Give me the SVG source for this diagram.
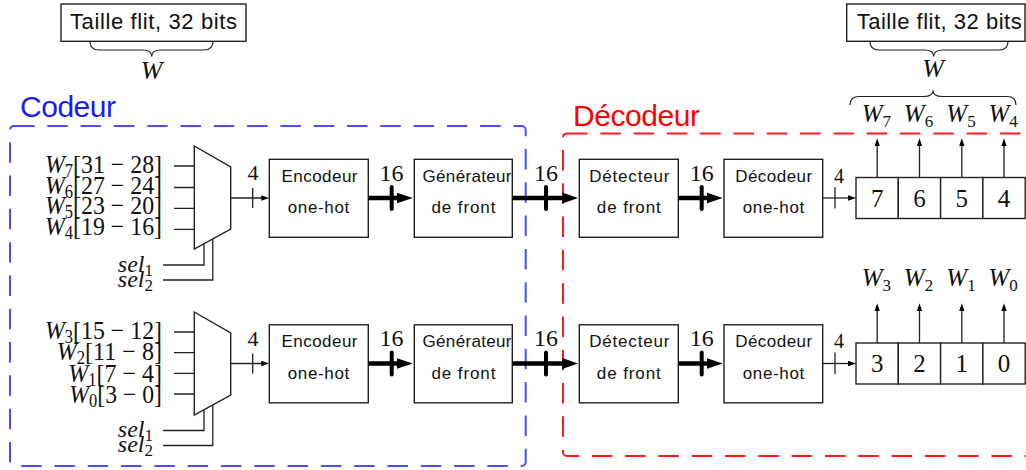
<svg xmlns="http://www.w3.org/2000/svg" width="1026" height="470" viewBox="0 0 1026 470">
<defs>
<style>
.sans{font-family:"Liberation Sans","DejaVu Sans",sans-serif;fill:#111}
.lbl{font-size:17px}
.serif{font-family:"Liberation Serif","DejaVu Serif",serif;fill:#111}
.it{font-style:italic}
.box{fill:#fff;stroke:#222;stroke-width:1.4}
.ln{fill:none;stroke:#222;stroke-width:1.3}
.thick{fill:none;stroke:#000;stroke-width:4.5}
.tick{fill:none;stroke:#000;stroke-width:4;stroke-linecap:round}
.tickt{fill:none;stroke:#222;stroke-width:1.3}
.brace{fill:none;stroke:#222;stroke-width:1.2}
</style>
<marker id="ah" markerUnits="userSpaceOnUse" viewBox="0 0 8 8" markerWidth="8" markerHeight="8" refX="5" refY="4" orient="auto"><path d="M0,1.3 L8,4 L0,6.7 z" fill="#000"/></marker>
<marker id="ahT" markerUnits="userSpaceOnUse" viewBox="0 0 16 12" markerWidth="16" markerHeight="12" refX="6" refY="6" orient="auto"><path d="M0,0.6 L16,6 L0,11.4 z" fill="#000"/></marker>
</defs>
<rect width="1026" height="470" fill="#fff"/>

<!-- containers -->
<g id="codeur">
<rect x="10" y="126" width="515.7" height="340" rx="4" fill="none" stroke="#4d4dff" stroke-width="2" stroke-dasharray="20.5 12.8"/>
<text x="20" y="117" class="sans" font-size="30" style="fill:#1a1aff" textLength="96" lengthAdjust="spacing">Codeur</text>
</g>
<g id="decodeur">
<rect x="563" y="133.5" width="500" height="322.5" rx="4" fill="none" stroke="#ff1a1a" stroke-width="2" stroke-dasharray="20.5 12.8"/>
<text x="573" y="126" class="sans" font-size="30" style="fill:#ff0000" textLength="127" lengthAdjust="spacing">Décodeur</text>
</g>

<!-- top annotations -->
<g id="taille-left">
<rect x="61" y="4" width="185" height="37.3" class="box"/>
<text x="70" y="29.3" class="sans" font-size="22" textLength="167" lengthAdjust="spacing">Taille flit, 32 bits</text>
<path class="brace" d="M90,41.5 Q90,50 99,50 H142.7 Q151.7,50 151.7,56.5 Q151.7,50 160.7,50 H204 Q213,50 213,41.5"/>
<text x="151.7" y="79" class="serif it" font-size="26" text-anchor="middle">W</text>
</g>
<g id="taille-right">
<rect x="846.7" y="4" width="178.3" height="37.3" class="box"/>
<text x="856.7" y="29.3" class="sans" font-size="22" textLength="165" lengthAdjust="spacing">Taille flit, 32 bits</text>
<path class="brace" d="M870,41.5 Q870,50 879,50 H924.7 Q933.7,50 933.7,56.5 Q933.7,50 942.7,50 H999 Q1008,50 1008,41.5"/>
<text x="933" y="77" class="serif it" font-size="26" text-anchor="middle">W</text>
<path class="brace" d="M850,105 Q850,96.5 859,96.5 H924 Q933,96.5 933,90.5 Q933,96.5 942,96.5 H1007 Q1016,96.5 1016,105"/>
</g>

<!-- row 1 -->
<g id="mux1">
<polygon points="194.3,146 230.7,167 230.7,229 194.3,249" class="box"/>
<g class="serif" font-size="26">
<text x="45" y="173" textLength="117" lengthAdjust="spacingAndGlyphs"><tspan class="it">W</tspan><tspan font-size="18" dy="4">7</tspan><tspan dy="-4">[31 − 28]</tspan></text>
<text x="45" y="193.5" textLength="117" lengthAdjust="spacingAndGlyphs"><tspan class="it">W</tspan><tspan font-size="18" dy="4">6</tspan><tspan dy="-4">[27 − 24]</tspan></text>
<text x="45" y="214" textLength="117" lengthAdjust="spacingAndGlyphs"><tspan class="it">W</tspan><tspan font-size="18" dy="4">5</tspan><tspan dy="-4">[23 − 20]</tspan></text>
<text x="45" y="234.5" textLength="117" lengthAdjust="spacingAndGlyphs"><tspan class="it">W</tspan><tspan font-size="18" dy="4">4</tspan><tspan dy="-4">[19 − 16]</tspan></text>
</g>
<g class="serif it" font-size="24" text-anchor="end">
<text x="153" y="271.7">sel<tspan font-size="17" font-style="normal" dy="4">1</tspan></text>
<text x="153" y="286.7">sel<tspan font-size="17" font-style="normal" dy="4">2</tspan></text>
</g>
</g>
<g id="enc1">
<rect x="269.3" y="159.3" width="99" height="78" class="box"/>
<text x="319.5" y="181.7" class="sans lbl" text-anchor="middle" textLength="76" lengthAdjust="spacing">Encodeur</text>
<text x="318.5" y="213" class="sans lbl" text-anchor="middle" textLength="61.6" lengthAdjust="spacing">one-hot</text>
</g>
<g id="gen1">
<rect x="414.3" y="159.3" width="98" height="78" class="box"/>
<text x="467" y="181.7" class="sans lbl" text-anchor="middle" textLength="89" lengthAdjust="spacing">Générateur</text>
<text x="463.4" y="213" class="sans lbl" text-anchor="middle" textLength="64" lengthAdjust="spacing">de front</text>
</g>
<g id="det1">
<rect x="579.3" y="159.3" width="99" height="78" class="box"/>
<text x="629.3" y="181.7" class="sans lbl" text-anchor="middle" textLength="80" lengthAdjust="spacing">Détecteur</text>
<text x="628.8" y="213" class="sans lbl" text-anchor="middle" textLength="64" lengthAdjust="spacing">de front</text>
</g>
<g id="dec1">
<rect x="724" y="159.3" width="98.7" height="78" class="box"/>
<text x="773.7" y="181.7" class="sans lbl" text-anchor="middle" textLength="77" lengthAdjust="spacing">Décodeur</text>
<text x="773.5" y="213" class="sans lbl" text-anchor="middle" textLength="61.6" lengthAdjust="spacing">one-hot</text>
</g>
<g id="reg1">
<rect x="856" y="177.5" width="42.3" height="41" class="box"/>
<rect x="898.3" y="177.5" width="42.3" height="41" class="box"/>
<rect x="940.6" y="177.5" width="42.3" height="41" class="box"/>
<rect x="982.9" y="177.5" width="42.3" height="41" class="box"/>
<g class="serif" font-size="25" text-anchor="middle">
<text x="877.2" y="206.7">7</text><text x="919.5" y="206.7">6</text><text x="961.8" y="206.7">5</text><text x="1004" y="206.7">4</text>
</g>
<g class="serif" font-size="25">
<text x="861.7" y="121.7"><tspan class="it">W</tspan><tspan font-size="17" dy="5">7</tspan></text>
<text x="903.8" y="121.7"><tspan class="it">W</tspan><tspan font-size="17" dy="5">6</tspan></text>
<text x="946.3" y="121.7"><tspan class="it">W</tspan><tspan font-size="17" dy="5">5</tspan></text>
<text x="988.5" y="121.7"><tspan class="it">W</tspan><tspan font-size="17" dy="5">4</tspan></text>
</g>
</g>

<!-- row 2 -->
<g id="mux2">
<polygon points="194.3,312 230.7,333 230.7,395 194.3,415" class="box"/>
<g class="serif" font-size="26">
<text x="45" y="339" textLength="117" lengthAdjust="spacingAndGlyphs"><tspan class="it">W</tspan><tspan font-size="18" dy="4">3</tspan><tspan dy="-4">[15 − 12]</tspan></text>
<text x="56.7" y="360" textLength="105.3" lengthAdjust="spacingAndGlyphs"><tspan class="it">W</tspan><tspan font-size="18" dy="4">2</tspan><tspan dy="-4">[11 − 8]</tspan></text>
<text x="68.3" y="381.5" textLength="93.7" lengthAdjust="spacingAndGlyphs"><tspan class="it">W</tspan><tspan font-size="18" dy="4">1</tspan><tspan dy="-4">[7 − 4]</tspan></text>
<text x="69.3" y="403" textLength="92.7" lengthAdjust="spacingAndGlyphs"><tspan class="it">W</tspan><tspan font-size="18" dy="4">0</tspan><tspan dy="-4">[3 − 0]</tspan></text>
</g>
<g class="serif it" font-size="24" text-anchor="end">
<text x="153" y="437.3">sel<tspan font-size="17" font-style="normal" dy="4">1</tspan></text>
<text x="153" y="452.2">sel<tspan font-size="17" font-style="normal" dy="4">2</tspan></text>
</g>
</g>
<g id="enc2">
<rect x="269.3" y="324.8" width="99" height="78" class="box"/>
<text x="319.5" y="347.2" class="sans lbl" text-anchor="middle" textLength="76" lengthAdjust="spacing">Encodeur</text>
<text x="318.5" y="378.5" class="sans lbl" text-anchor="middle" textLength="61.6" lengthAdjust="spacing">one-hot</text>
</g>
<g id="gen2">
<rect x="414.3" y="324.8" width="98" height="78" class="box"/>
<text x="467" y="347.2" class="sans lbl" text-anchor="middle" textLength="89" lengthAdjust="spacing">Générateur</text>
<text x="463.4" y="378.5" class="sans lbl" text-anchor="middle" textLength="64" lengthAdjust="spacing">de front</text>
</g>
<g id="det2">
<rect x="579.3" y="324.8" width="99" height="78" class="box"/>
<text x="629.3" y="347.2" class="sans lbl" text-anchor="middle" textLength="80" lengthAdjust="spacing">Détecteur</text>
<text x="628.8" y="378.5" class="sans lbl" text-anchor="middle" textLength="64" lengthAdjust="spacing">de front</text>
</g>
<g id="dec2">
<rect x="724" y="324.8" width="98.7" height="78" class="box"/>
<text x="773.7" y="347.2" class="sans lbl" text-anchor="middle" textLength="77" lengthAdjust="spacing">Décodeur</text>
<text x="773.5" y="378.5" class="sans lbl" text-anchor="middle" textLength="61.6" lengthAdjust="spacing">one-hot</text>
</g>
<g id="reg2">
<rect x="856" y="343" width="42.3" height="41" class="box"/>
<rect x="898.3" y="343" width="42.3" height="41" class="box"/>
<rect x="940.6" y="343" width="42.3" height="41" class="box"/>
<rect x="982.9" y="343" width="42.3" height="41" class="box"/>
<g class="serif" font-size="25" text-anchor="middle">
<text x="877.2" y="372.2">3</text><text x="919.5" y="372.2">2</text><text x="961.8" y="372.2">1</text><text x="1004" y="372.2">0</text>
</g>
<g class="serif" font-size="25">
<text x="861.7" y="286"><tspan class="it">W</tspan><tspan font-size="17" dy="5">3</tspan></text>
<text x="903.8" y="286"><tspan class="it">W</tspan><tspan font-size="17" dy="5">2</tspan></text>
<text x="946.3" y="286"><tspan class="it">W</tspan><tspan font-size="17" dy="5">1</tspan></text>
<text x="988.5" y="286"><tspan class="it">W</tspan><tspan font-size="17" dy="5">0</tspan></text>
</g>
</g>

<!-- connectors -->
<g id="connectors">
<!-- row 1 -->
<path class="ln" d="M174,166 H194.3 M174,187.5 H194.3 M174,208.3 H194.3 M174,229.3 H194.3"/>
<path class="ln" d="M163,265 H204 V243.5 M163,280 H212.8 V238.5"/>
<path class="ln" d="M230.7,198 H266.3" marker-end="url(#ah)"/>
<path class="tickt" d="M252.7,188 V208"/>
<text x="253" y="180" class="serif" font-size="22" text-anchor="middle">4</text>
<path class="thick" d="M368.3,198 H402.7" marker-end="url(#ahT)"/>
<path class="tick" d="M391.7,187 V209"/>
<text x="391.5" y="180.5" class="serif" font-size="24" text-anchor="middle">16</text>
<path class="thick" d="M512.3,198 H568.3" marker-end="url(#ahT)"/>
<path class="tick" d="M546,187 V209"/>
<text x="546" y="180.5" class="serif" font-size="24" text-anchor="middle">16</text>
<path class="thick" d="M678.3,198 H712.7" marker-end="url(#ahT)"/>
<path class="tick" d="M701.7,187 V209"/>
<text x="701.7" y="180.5" class="serif" font-size="24" text-anchor="middle">16</text>
<path class="ln" d="M822.7,198 H853" marker-end="url(#ah)"/>
<path class="tickt" d="M835,187 V208.5"/>
<text x="839" y="182.5" class="serif" font-size="20" text-anchor="middle">4</text>
<path class="ln" d="M877.2,177.5 V141.3" marker-end="url(#ah)"/>
<path class="ln" d="M919.5,177.5 V141.3" marker-end="url(#ah)"/>
<path class="ln" d="M961.8,177.5 V141.3" marker-end="url(#ah)"/>
<path class="ln" d="M1004,177.5 V141.3" marker-end="url(#ah)"/>
<!-- row 2 -->
<path class="ln" d="M174,332 H194.3 M174,352.7 H194.3 M174,373.4 H194.3 M174,394 H194.3"/>
<path class="ln" d="M163,430.5 H204 V409.5 M163,445.5 H212.8 V404.8"/>
<path class="ln" d="M230.7,363.5 H266.3" marker-end="url(#ah)"/>
<path class="tickt" d="M252.7,353.5 V373.5"/>
<text x="253" y="345.5" class="serif" font-size="22" text-anchor="middle">4</text>
<path class="thick" d="M368.3,363.5 H402.7" marker-end="url(#ahT)"/>
<path class="tick" d="M391.7,352.5 V374.5"/>
<text x="391.5" y="346" class="serif" font-size="24" text-anchor="middle">16</text>
<path class="thick" d="M512.3,363.5 H568.3" marker-end="url(#ahT)"/>
<path class="tick" d="M546,352.5 V374.5"/>
<text x="546" y="346" class="serif" font-size="24" text-anchor="middle">16</text>
<path class="thick" d="M678.3,363.5 H712.7" marker-end="url(#ahT)"/>
<path class="tick" d="M701.7,352.5 V374.5"/>
<text x="701.7" y="346" class="serif" font-size="24" text-anchor="middle">16</text>
<path class="ln" d="M822.7,363.5 H853" marker-end="url(#ah)"/>
<path class="tickt" d="M835,352.5 V374"/>
<text x="839" y="348" class="serif" font-size="20" text-anchor="middle">4</text>
<path class="ln" d="M877.2,343 V306.3" marker-end="url(#ah)"/>
<path class="ln" d="M919.5,343 V306.3" marker-end="url(#ah)"/>
<path class="ln" d="M961.8,343 V306.3" marker-end="url(#ah)"/>
<path class="ln" d="M1004,343 V306.3" marker-end="url(#ah)"/>
</g>
</svg>
